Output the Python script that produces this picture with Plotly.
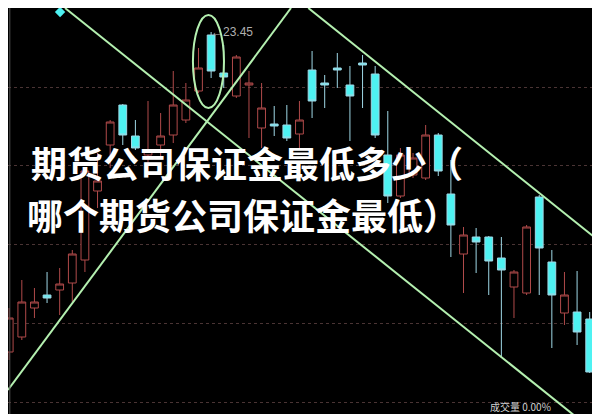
import plotly.graph_objects as go

# ---- data (index of candle, OHLC prices) ----
idx = list(range(48))
opens = [20.25, 20.40, 20.69, 20.82, 20.87, 20.94, 21.17, 21.86, 22.32, 22.72,
         22.41, 22.22, 22.32, 22.42, 22.57, 22.86, 23.42, 23.04, 22.81, 22.92,
         22.49, 22.53, 22.52, 22.43, 23.07, 22.94, 23.09, 22.92, 23.14, 23.03,
         22.22, 21.81, 22.02, 21.99, 22.42, 21.83, 21.23, 21.40, 21.40, 21.19,
         20.90, 20.84, 21.80, 21.15, 20.64, 20.65, 20.58, 19.75]
highs = [20.69, 20.97, 20.89, 21.05, 21.09, 21.27, 22.09, 22.24, 22.57, 22.73,
         22.57, 22.76, 22.64, 23.06, 22.94, 23.29, 23.45, 23.32, 23.22, 23.06,
         22.94, 22.71, 22.72, 22.76, 23.26, 23.02, 23.24, 23.11, 23.22, 23.11,
         22.66, 22.29, 22.24, 22.52, 22.44, 22.17, 21.50, 21.49, 21.41, 21.40,
         21.07, 21.52, 21.82, 21.27, 21.05, 21.06, 20.65, 19.82]
lows = [20.17, 20.37, 20.59, 20.74, 20.62, 20.75, 21.05, 21.69, 22.09, 22.32,
        22.27, 22.06, 22.19, 22.34, 22.54, 22.84, 22.99, 22.89, 22.79, 22.39,
        22.29, 22.41, 22.36, 22.29, 22.59, 22.69, 22.89, 22.36, 22.69, 22.39,
        21.74, 21.79, 21.99, 21.97, 22.01, 21.20, 20.84, 21.04, 20.82, 20.19,
        20.59, 20.82, 20.82, 20.29, 20.52, 20.32, 20.04, 19.44]
closes = [20.59, 20.75, 20.75, 20.79, 20.93, 21.23, 22.06, 21.96, 22.55, 22.42,
          22.29, 22.27, 22.41, 22.72, 22.77, 23.09, 23.06, 23.00, 23.20, 22.94,
          22.69, 22.51, 22.39, 22.57, 22.76, 22.92, 23.07, 22.81, 23.12, 22.42,
          21.81, 22.22, 22.19, 22.42, 22.06, 21.52, 21.42, 21.35, 21.16, 21.07,
          21.05, 21.50, 21.29, 20.82, 20.82, 20.45, 20.05, 19.49]

grid_prices = [22.90, 22.12, 21.33, 20.54, 19.75]

# trend lines (candle index, price)
trend1_x = [4.42, 45.43]
trend1_y = [23.69, 19.55]
trend2_x = [23.70, 47.45]
trend2_y = [23.69, 21.29]
trend3_x = [-0.095, 22.33]
trend3_y = [19.87, 23.69]

high_label = "←23.45"
high_idx = 16
high_price = 23.45

marker_x = [4.03]
marker_y = [23.65]

title_line1 = "期货公司保证金最低多少（"
title_line2 = "哪个期货公司保证金最低）"
bottom_text = "成交量 0.00%"

X_RANGE = [-0.095, 47.45]
Y_RANGE = [19.55, 23.69]

line_green = "#b4f0b0"

fig = go.Figure()

fig.add_trace(go.Candlestick(
    x=idx, open=opens, high=highs, low=lows, close=closes,
    increasing=dict(line=dict(color="#b04a4a", width=1), fillcolor="black"),
    decreasing=dict(line=dict(color="#9fd8e6", width=1), fillcolor="#4ef2f2"),
    whiskerwidth=0,
    showlegend=False,
))

for tx, ty in [(trend1_x, trend1_y), (trend2_x, trend2_y), (trend3_x, trend3_y)]:
    fig.add_trace(go.Scatter(x=tx, y=ty, mode="lines",
                             line=dict(color=line_green, width=2),
                             showlegend=False, hoverinfo="skip"))

fig.add_trace(go.Scatter(x=marker_x, y=marker_y, mode="markers",
                         marker=dict(symbol="diamond", size=8, color="#4ef2f2"),
                         showlegend=False))

# ellipse around the top
fig.add_shape(type="circle", xref="x", yref="y",
              x0=14.56, x1=17.02, y0=22.69, y1=23.62,
              line=dict(color=line_green, width=2))

fig.add_annotation(x=high_idx, y=high_price, text=high_label, showarrow=False,
                   xanchor="left", yanchor="middle", xshift=-2,
                   font=dict(family="Liberation Sans, Arial", size=12, color="#b0b0b0"))

fig.add_annotation(xref="paper", yref="paper", x=0.035, y=0.627, text=title_line1,
                   showarrow=False, xanchor="left", yanchor="middle",
                   font=dict(family="Noto Sans CJK SC", size=36, color="white",
                             weight="bold"))
fig.add_annotation(xref="paper", yref="paper", x=0.028, y=0.502, text=title_line2,
                   showarrow=False, xanchor="left", yanchor="middle",
                   font=dict(family="Noto Sans CJK SC", size=36, color="white",
                             weight="bold"))

fig.add_annotation(xref="paper", yref="paper", x=0.80, y=0.0, text=bottom_text,
                   showarrow=False, xanchor="left", yanchor="bottom", yshift=6,
                   font=dict(family="Noto Sans CJK SC", size=10, color="#d0d0d0"))

# frame lines
fig.add_shape(type="line", xref="paper", yref="paper", x0=0.995, x1=0.995, y0=0, y1=1,
              line=dict(color="#cfcfcf", width=1.5))
fig.add_shape(type="line", xref="paper", yref="paper", x0=0.003, x1=0.003, y0=0, y1=1,
              line=dict(color="#555555", width=1))

fig.update_layout(
    width=600, height=414,
    margin=dict(l=0, r=0, t=0, b=0),
    paper_bgcolor="black", plot_bgcolor="black",
    boxgap=0.12,
    xaxis=dict(range=X_RANGE, visible=False, rangeslider=dict(visible=False)),
    yaxis=dict(range=Y_RANGE, showticklabels=False, zeroline=False,
               tickvals=grid_prices, showgrid=True, gridcolor="#4a3434",
               griddash="dot", gridwidth=1),
    hovermode=False,
)

fig.write_html("out.html")
